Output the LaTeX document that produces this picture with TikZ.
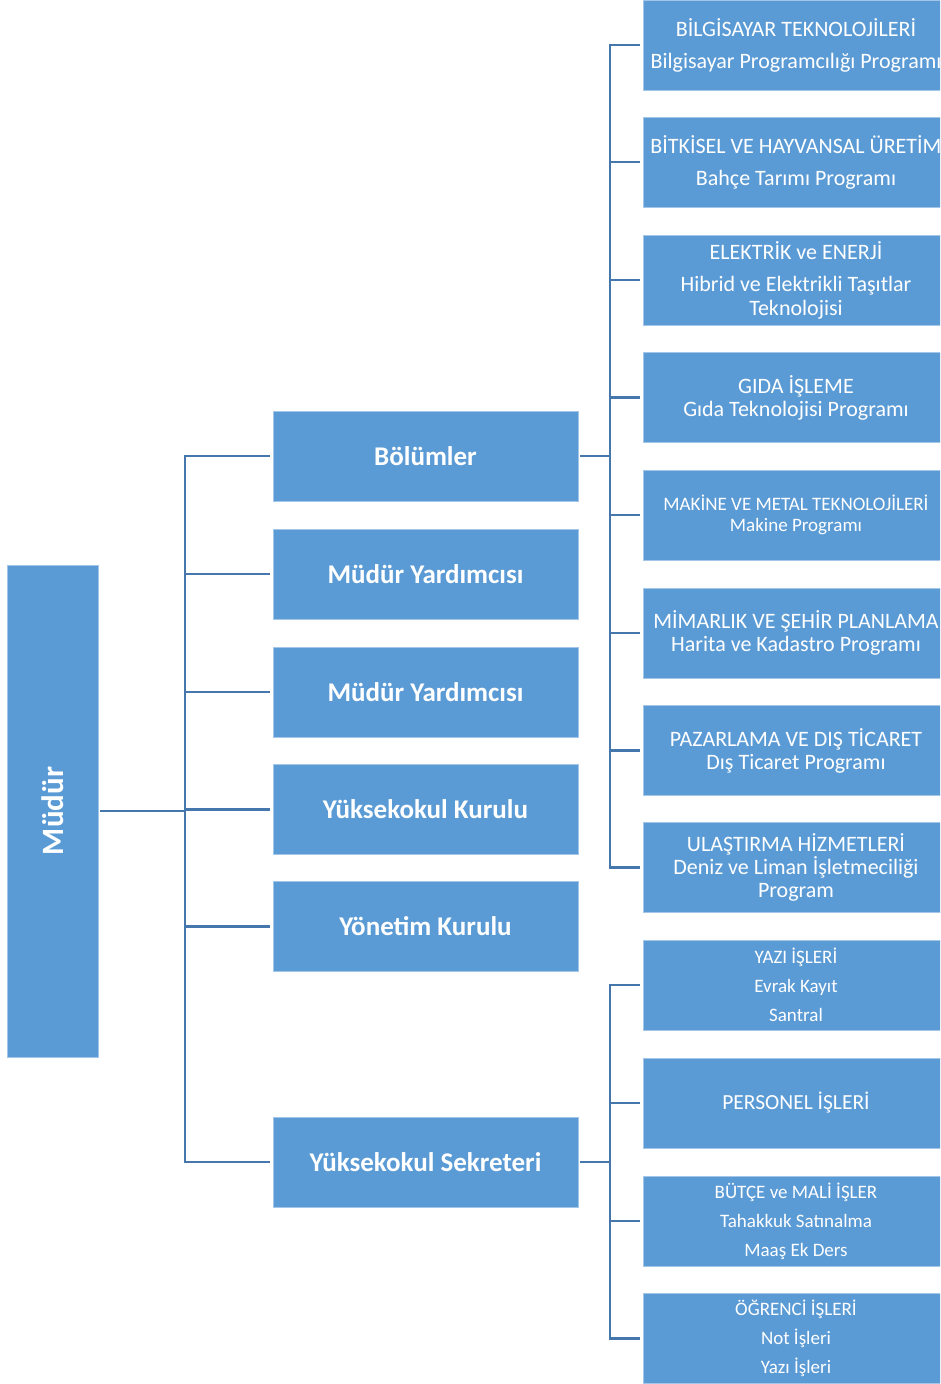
\documentclass[tikz,border=0pt]{standalone}
\usepackage{fontspec}
\setmainfont{Carlito}
\definecolor{boxblue}{HTML}{5B9BD5}
\definecolor{lineblue}{HTML}{4677AC}
\definecolor{edgeblue}{HTML}{A4C6E8}
\begin{document}
\begin{tikzpicture}[x=1pt,y=-1pt,
  box/.style={fill=boxblue, draw=edgeblue, line width=0.8pt, text=white, align=center, inner sep=0pt, minimum height=90pt},
  chief/.style={box, minimum width=91pt, minimum height=492pt},
  mid/.style={box, minimum width=305pt, font=\fontsize{27}{30}\selectfont\bfseries},
  dept/.style={box, minimum width=306pt, font=\fontsize{22}{23}\selectfont},
  deptsmall/.style={box, minimum width=306pt, font=\fontsize{19}{21}\selectfont},
  unit/.style={box, minimum width=306pt, font=\fontsize{19}{29}\selectfont},
  conn/.style={draw=lineblue, line width=2.2pt, line cap=rect}]
\clip (0,0) rectangle (940,1384);
\fill[white] (0,0) rectangle (940,1384);

% chief
\node[chief] (mudur) at (52.5,811) {};
\node[text=white, font=\fontsize{31}{33}\selectfont\bfseries, rotate=90] (mudurtext) at (mudur.center) {Müdür};

% middle column
\node[mid] (b1) at (425.5,456) {Bölümler};
\node[mid] (b2) at (425.5,574) {Müdür Yardımcısı};
\node[mid] (b3) at (425.5,692) {Müdür Yardımcısı};
\node[mid] (b4) at (425.5,809.5) {Yüksekokul Kurulu};
\node[mid] (b5) at (425.5,926.5) {Yönetim Kurulu};
\node[mid] (b6) at (425.5,1162) {Yüksekokul Sekreteri};

% departments
\node[dept] (d1) at (796,45) {BİLGİSAYAR TEKNOLOJİLERİ\\[9pt]Bilgisayar Programcılığı Programı};
\node[dept] (d2) at (796,162) {BİTKİSEL VE HAYVANSAL ÜRETİM\\[9pt]Bahçe Tarımı Programı};
\node[dept] (d3) at (796,280) {ELEKTRİK ve ENERJİ\\[9pt]Hibrid ve Elektrikli Taşıtlar\\[1pt]Teknolojisi};
\node[dept] (d4) at (796,397.5) {GIDA İŞLEME\\Gıda Teknolojisi Programı};
\node[deptsmall] (d5) at (796,515) {MAKİNE VE METAL TEKNOLOJİLERİ\\Makine Programı};
\node[dept] (d6) at (796,633) {MİMARLIK VE ŞEHİR PLANLAMA\\Harita ve Kadastro Programı};
\node[dept] (d7) at (796,750.5) {PAZARLAMA VE DIŞ TİCARET\\Dış Ticaret Programı};
\node[dept] (d8) at (796,867.5) {ULAŞTIRMA HİZMETLERİ\\Deniz ve Liman İşletmeciliği\\Program};

% secretary units
\node[unit] (s1) at (796,985) {YAZI İŞLERİ\\Evrak Kayıt\\Santral};
\node[dept, font=\fontsize{21.5}{23}\selectfont] (s2) at (796,1103) {PERSONEL İŞLERİ};
\node[unit] (s3) at (796,1221) {BÜTÇE ve MALİ İŞLER\\Tahakkuk Satınalma\\Maaş Ek Ders};
\node[unit] (s4) at (796,1338.5) {ÖĞRENCİ İŞLERİ\\Not İşleri\\Yazı İşleri};

% connectors: chief to middle column
\coordinate (J1) at (185,811);
\draw[conn] ([xshift=3pt]mudur.east) -- (J1);
\draw[conn] (J1 |- b1.west) -- (J1 |- b6.west);
\foreach \n in {b1,b2,b3,b4,b5,b6}
  \draw[conn] (J1 |- \n.west) -- ([xshift=-4pt]\n.west);

% connectors: Bölümler to departments
\coordinate (J2) at (610,456);
\draw[conn] ([xshift=3pt]b1.east) -- (J2);
\draw[conn] (J2 |- d1.west) -- (J2 |- d8.west);
\foreach \n in {d1,d2,d3,d4,d5,d6,d7,d8}
  \draw[conn] (J2 |- \n.west) -- ([xshift=-4pt]\n.west);

% connectors: Sekreter to units
\coordinate (J3) at (610,1162);
\draw[conn] ([xshift=3pt]b6.east) -- (J3);
\draw[conn] (J3 |- s1.west) -- (J3 |- s4.west);
\foreach \n in {s1,s2,s3,s4}
  \draw[conn] (J3 |- \n.west) -- ([xshift=-4pt]\n.west);
\end{tikzpicture}
\end{document}
